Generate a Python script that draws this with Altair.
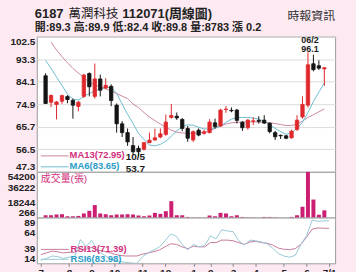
import altair as alt
import pandas as pd

# ---------------- data ----------------
week = list(range(52))
opens = [86.5, 75.7, 74.8, 76.1, 78.0, 76.5, 74.0, 78.1, 87.4, 78.1, 85.2, 81.5, 82.2, 74.5, 66.9, 63.3, 58.0, 56.9,
         56.5, 59.2, 60.3, 61.5, 62.6, 69.5, 70.0, 68.7, 65.0, 60.3, 64.3, 63.0, 63.3, 67.3, 66.0, 72.7, 72.4, 72.5,
         67.5, 65.3, 67.9, 68.3, 68.4, 67.1, 63.3, 62.2, 62.0, 61.2, 64.6, 69.7, 74.5, 91.4, 90.6, 89.3]
highs = [87.5, 78.8, 76.2, 78.8, 78.6, 77.2, 76.2, 87.3, 87.9, 91.5, 87.0, 85.5, 83.0, 75.2, 68.0, 65.0, 61.5, 58.0,
         59.5, 63.3, 64.9, 65.0, 70.7, 75.0, 71.5, 69.2, 66.0, 64.2, 65.0, 64.5, 68.8, 69.0, 73.0, 74.1, 73.6, 73.0,
         68.0, 68.8, 69.6, 70.0, 70.4, 67.5, 64.0, 62.5, 62.3, 64.5, 70.4, 78.1, 96.1, 95.1, 92.8, 89.9]
lows = [75.0, 73.7, 68.7, 75.0, 75.3, 69.0, 72.0, 77.5, 78.1, 77.2, 78.1, 81.0, 74.1, 63.3, 61.5, 57.9, 54.3, 53.7,
        56.0, 59.0, 60.0, 61.0, 62.0, 69.0, 68.5, 63.9, 59.6, 59.5, 61.8, 62.5, 63.0, 65.0, 65.7, 71.4, 71.6, 67.0,
        64.0, 64.5, 66.4, 67.0, 66.8, 63.0, 60.3, 60.7, 60.6, 60.8, 64.0, 69.0, 73.5, 88.3, 88.9, 82.4]
closes = [75.2, 78.5, 75.8, 78.4, 76.8, 74.5, 75.7, 86.8, 82.0, 85.2, 80.6, 82.6, 76.4, 66.9, 63.3, 59.5, 55.5, 55.5,
          59.2, 60.2, 61.2, 62.8, 67.6, 70.3, 69.3, 65.0, 61.0, 63.7, 62.3, 63.6, 67.6, 65.7, 72.5, 72.9, 72.2, 68.3,
          65.3, 68.4, 68.1, 67.9, 67.2, 63.7, 61.6, 62.0, 61.0, 63.9, 68.4, 74.8, 91.0, 89.0, 89.6, 89.8]
volumes = [3000, 3000, 3900, 4200, 1800, 1800, 2200, 5100, 8200, 15000, 5100, 4200, 3000, 3900, 3900, 4200, 3900, 2700,
           1800, 2700, 5800, 4600, 7800, 19600, 3000, 3000, 1000, 500, 500, 400, 2700, 1800, 5800, 5100, 1800, 3000,
           1000, 500, 500, 300, 1000, 1000, 600, 300, 300, 1000, 3000, 13000, 54100, 21500, 3600, 8783]
ma6 = [92.8, 89.5, 86.0, 82.5, 79.0, 77.0, 76.6, 78.0, 79.3, 80.3, 81.0, 81.7, 81.8, 79.3, 75.0, 70.8, 67.0, 63.0,
       60.5, 58.2, 57.9, 58.5, 59.8, 61.8, 64.0, 65.8, 66.5, 66.3, 65.5, 64.8, 64.8, 65.2, 66.0, 67.5, 68.8, 69.4,
       69.5, 69.5, 69.2, 68.8, 67.8, 66.5, 65.0, 63.7, 62.6, 63.3, 65.0, 67.5, 71.5, 76.0, 79.8, 83.65]
ma13 = [None, 100.2, 97.0, 94.3, 91.8, 89.5, 87.6, 85.8, 83.8, 82.8, 82.0, 81.2, 80.3, 79.2, 78.2, 77.2, 75.0, 73.5,
        71.5, 69.7, 68.2, 66.8, 65.5, 64.3, 63.5, 63.2, 63.0, 63.0, 63.2, 63.5, 64.0, 65.0, 66.0, 66.8, 67.3, 67.5,
        67.6, 67.7, 67.7, 67.6, 67.5, 67.3, 67.0, 66.6, 66.2, 66.2, 66.8, 68.0, 69.5, 70.6, 71.8, 72.95]
rsi6 = [19, 22, 26, 25, 22, 24, 25, 53, 41, 52, 34, 29, 23, 19, 17, 15.5, 14.5, 14,
        25, 31, 36, 41, 51, 62, 58, 45, 36, 45, 41, 43, 59, 54, 69, 67, 66, 51,
        44, 52, 51, 49, 46, 39, 30, 26, 24, 27, 45, 59, 85, 83, 83.5, 83.98]
rsi13 = [28, 31, 34, 33, 31, 32, 32, 37, 37, 40, 36, 34, 32, 29, 27, 26, 26, 26,
         29, 31, 33, 36, 41, 46, 45, 41, 38, 42, 41, 41, 48, 48, 52, 52, 51, 48,
         45, 49, 50, 48, 47, 44, 39, 37, 36.5, 38, 45, 57, 70, 72, 71.5, 71.39]
tick_weeks = [0, 5, 9, 13, 18, 22, 27, 30, 34, 38, 43, 47, 51]
tick_labels = ["7", "8", "9", "10", "11", "12", "1", "2", "3", "4", "5", "6", "7/1"]
price_ticks = [47.3, 56.5, 65.7, 74.9, 84.1, 93.3, 102.5]
volume_ticks = [266, 18244, 36222, 54200]
rsi_ticks = [14, 39, 64, 89]

# ---------------- styling ----------------
FONT = "Liberation Sans, Noto Sans CJK TC, sans-serif"
BG = "#fce9f1"
RED = "#e0282c"
BLACK = "#141414"
MA6_C = "#6fbcd2"
MA13_C = "#cc86a3"
MAG = "#d2307c"
BLUE_T = "#2d9cc8"
W = 300

df = pd.DataFrame({"i": week, "open": opens, "high": highs, "low": lows, "close": closes,
                   "vol": volumes, "ma6": ma6, "ma13": ma13, "rsi6": rsi6, "rsi13": rsi13})
one = pd.DataFrame({"a": [0]})

xscale = alt.Scale(domain=[-0.7, 52.06], nice=False, zero=False)
yscale_main = alt.Scale(domain=[47.3, 102.5], nice=False, zero=False)


def X(field="i"):
    return alt.X(field, type="quantitative", scale=xscale, axis=None, title=None)


main_axis = alt.Axis(values=price_ticks, format=".1f", grid=True, gridColor="#dcdcdc",
                     labelFlush=True, labelOverlap=False, ticks=False, domain=False)


def YM(field):
    return alt.Y(field, type="quantitative", title=None, scale=yscale_main, axis=main_axis)


candle_color = alt.condition("datum.close >= datum.open", alt.value(RED), alt.value(BLACK))

base = alt.Chart(df)
ma13_line = base.mark_line(color=MA13_C, strokeWidth=1).encode(x=X(), y=YM("ma13"))
ma6_line = base.mark_line(color=MA6_C, strokeWidth=1).encode(x=X(), y=YM("ma6"))
wicks = base.mark_rule(strokeWidth=1).encode(x=X(), y=YM("low"), y2="high", color=candle_color)
bodies = base.mark_bar(size=3.4, strokeWidth=0.8).encode(
    x=X(), y=YM("open"), y2="close", color=candle_color, stroke=candle_color)

guard_top = alt.Chart(one).mark_rect(opacity=0).encode(
    x=alt.value(-36), x2=alt.value(320), y=alt.value(-35), y2=alt.value(0))


def ptext(txt, x, y, size=10, color="#222", weight="bold", align="left"):
    return alt.Chart(one).mark_text(text=txt, font=FONT, fontSize=size, fontWeight=weight, color=color,
                                    align=align, baseline="middle").encode(x=alt.value(x), y=alt.value(y))


def seg(x1, x2, y, color):
    return alt.Chart(one).mark_rule(color=color, strokeWidth=1).encode(
        x=alt.value(x1), x2=alt.value(x2), y=alt.value(y))


header = [
    ptext("6187", -2, -23, size=13),
    ptext("萬潤科技", 32, -23, size=12.5, weight="normal"),
    ptext("112071(周線圖)", 86, -23, size=13),
    ptext("時報資訊", 300, -21, size=12, weight="normal", color="#333", align="right"),
    ptext("開:89.3 高:89.9 低:82.4 收:89.8 量:8783 漲 0.2", -2, -9, size=11),
]

legend_main = [
    seg(4, 32, 120, MA13_C), ptext("MA13(72.95)", 33, 119.5, size=9.5, color=MAG),
    seg(4, 32, 131, MA6_C), ptext("MA6(83.65)", 33, 130.5, size=9.5, color=BLUE_T),
]


def dtext(txt, xi, yv, dy, size=10):
    return alt.Chart(one).mark_text(text=txt, font=FONT, fontSize=size, fontWeight="bold", color="#1a1a1a",
                                    baseline="middle", dy=dy).encode(
        x=alt.XDatum(xi, scale=xscale, axis=None),
        y=alt.YDatum(yv, scale=yscale_main, axis=main_axis, title=None))


notes = [dtext("10/5", 16.44, 53.7, 1), dtext("53.7", 16.44, 53.7, 13),
         dtext("06/2", 48.36, 96.1, -12.8, size=9), dtext("96.1", 48.36, 96.1, -3.2, size=9)]

main = alt.layer(ma13_line, ma6_line, wicks, bodies, guard_top, *header, *legend_main, *notes).properties(
    width=W, height=136)

# volume panel
vol_axis = alt.Axis(values=volume_ticks, format="d", grid=False, labelFlush=True, labelOverlap=False,
                    ticks=False, domain=False)
vol_bars = base.mark_bar(size=4, color="#cc1f74").encode(
    x=X(), y=alt.Y("vol:Q", title=None, scale=alt.Scale(domain=[266, 54200], nice=False, zero=False),
                   axis=vol_axis),
    y2=alt.datum(266))
vol = alt.layer(vol_bars, ptext("成交量(張)", 4, 7, size=10, weight="normal", color=MAG)).properties(
    width=W, height=46)

# RSI panel
rsi_axis = alt.Axis(values=rsi_ticks, grid=False, labelFlush=True, labelOverlap=False, ticks=False, domain=False)
label_expr = "[" + ",".join("'%s'" % t for t in tick_labels) + "][indexof([" + \
    ",".join(str(t) for t in tick_weeks) + "], datum.value)]"
x_axis = alt.Axis(values=tick_weeks, labelExpr=label_expr, ticks=True, tickSize=3, tickColor="#888",
                  domain=False, grid=False, labelPadding=1, labelFontSize=10, labelAngle=0,
                  labelOverlap=False)


def YR(field):
    return alt.Y(field, type="quantitative", title=None,
                 scale=alt.Scale(domain=[14, 89], nice=False, zero=False), axis=rsi_axis)


XR = alt.X("i:Q", scale=xscale, axis=x_axis, title=None)
rsi13_line = base.mark_line(color="#c77a9b", strokeWidth=1, clip=True).encode(x=XR, y=YR("rsi13"))
rsi6_line = base.mark_line(color="#98c9d6", strokeWidth=1, clip=True).encode(x=XR, y=YR("rsi6"))
guard_bottom = alt.Chart(one).mark_rect(opacity=0).encode(
    x=alt.value(-36), x2=alt.value(320), y=alt.value(0), y2=alt.value(55))
rsi = alt.layer(
    rsi13_line, rsi6_line, guard_bottom,
    seg(4, 32, 32, "#c77a9b"), ptext("RSI13(71.39)", 34, 31.5, size=9.5, color=MAG),
    seg(4, 32, 42, "#98c9d6"), ptext("RSI6(83.98)", 34, 42, size=9.5, color=BLUE_T),
).properties(width=W, height=46)

chart = alt.vconcat(main, vol, rsi, spacing=0, bounds="flush").properties(
    padding=0, background=BG
).configure_view(
    stroke="#9a9a9a", fill="white"
).configure_axis(
    labelFont=FONT, labelFontSize=10, labelFontWeight="bold", labelColor="#222", labelPadding=2
)

chart.save("out.html", embed_options={"renderer": "svg", "actions": False})
